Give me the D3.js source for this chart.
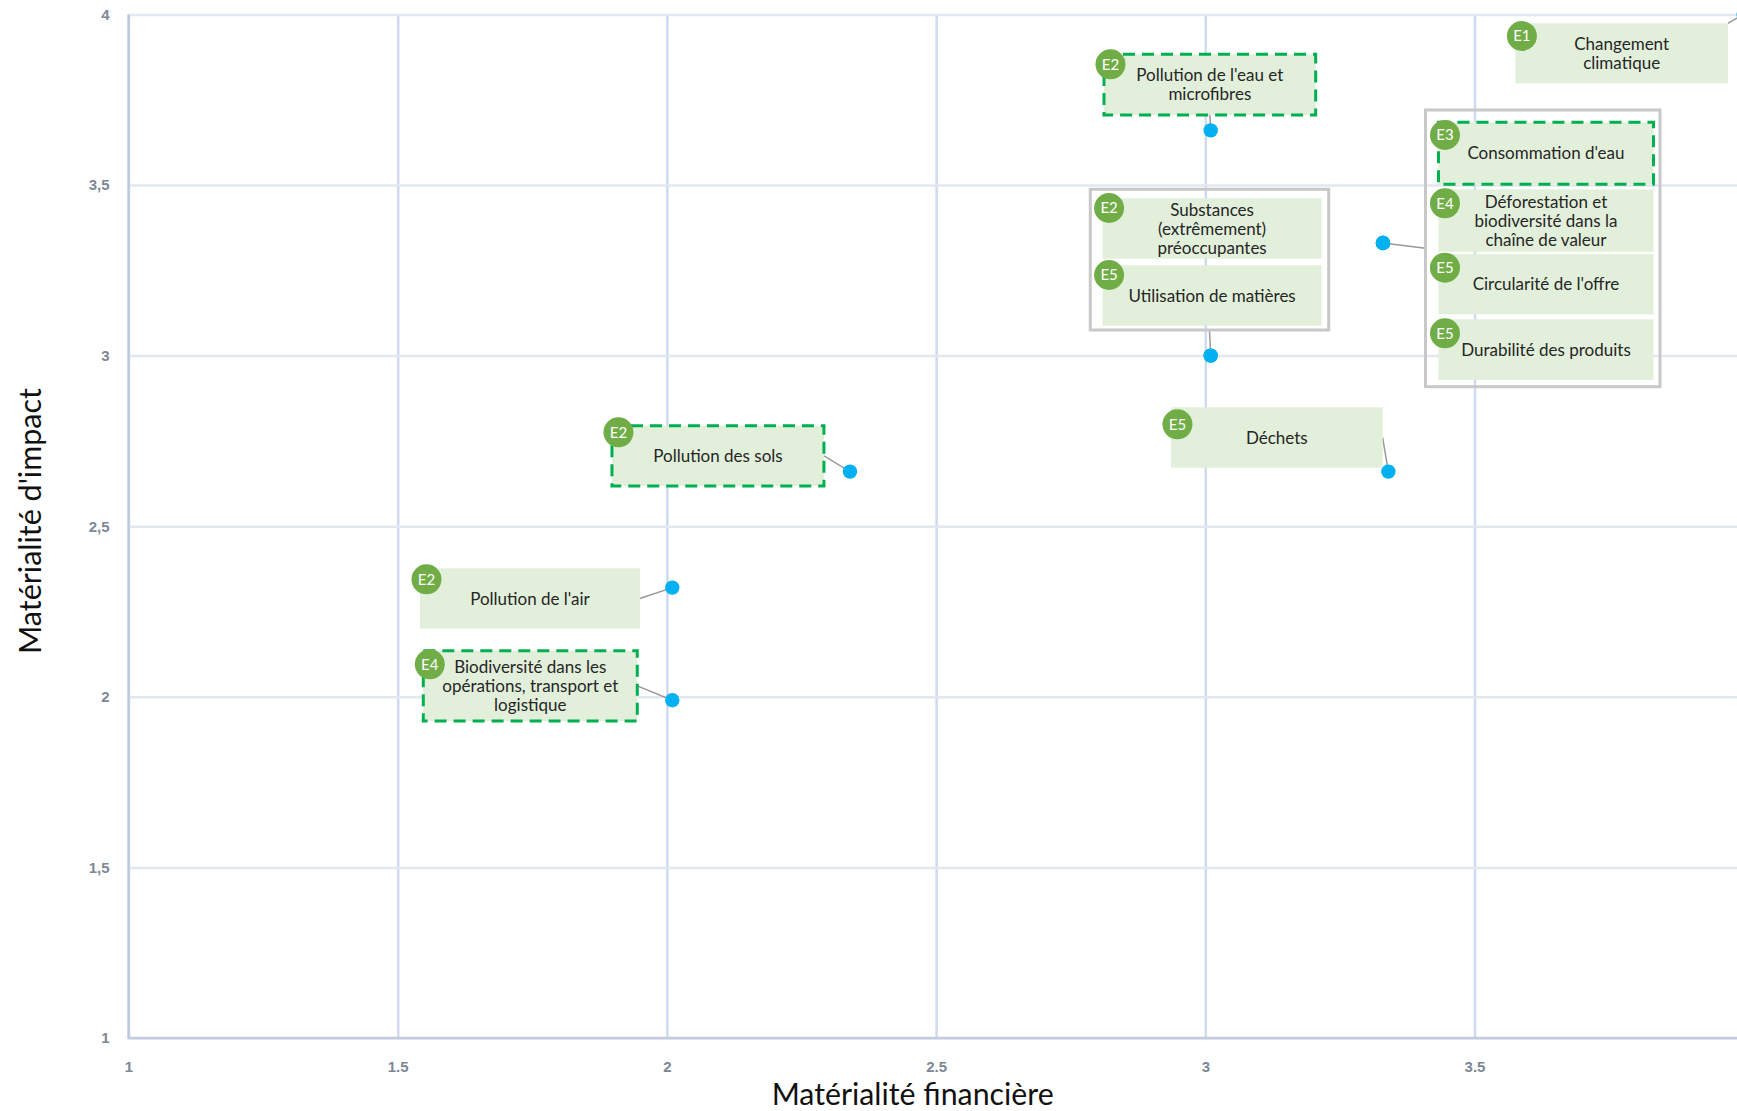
<!DOCTYPE html>
<html><head><meta charset="utf-8">
<script src="https://cdn.jsdelivr.net/npm/d3@7"></script>
<style>
html,body{margin:0;padding:0;background:#fff;overflow:hidden}
svg{display:block}
</style></head><body>
<svg id="chart" width="1737" height="1111"></svg>
<script>
// ---------- DATA ----------
const topics = [
  "Changement climatique",
  "Pollution de l'eau et microfibres",
  "Substances (extrêmement) préoccupantes",
  "Utilisation de matières",
  "Consommation d'eau",
  "Déforestation et biodiversité dans la chaîne de valeur",
  "Circularité de l'offre",
  "Durabilité des produits",
  "Déchets",
  "Pollution des sols",
  "Pollution de l'air",
  "Biodiversité dans les opérations, transport et logistique"
];
const topicLines = [
  ["Changement", "climatique"],
  ["Pollution de l'eau et", "microfibres"],
  ["Substances", "(extrêmement)", "préoccupantes"],
  ["Utilisation de matières"],
  ["Consommation d'eau"],
  ["Déforestation et", "biodiversité dans la", "chaîne de valeur"],
  ["Circularité de l'offre"],
  ["Durabilité des produits"],
  ["Déchets"],
  ["Pollution des sols"],
  ["Pollution de l'air"],
  ["Biodiversité dans les", "opérations, transport et", "logistique"]
];
const codes   = ["E1","E2","E2","E5","E3","E4","E5","E5","E5","E2","E2","E4"];
const finMat  = [4.0, 3.01, 3.01, 3.01, 3.33, 3.33, 3.33, 3.33, 3.34, 2.34, 2.01, 2.01];
const impMat  = [4.0, 3.66, 3.0, 3.0, 3.33, 3.33, 3.33, 3.33, 2.66, 2.66, 2.32, 1.99];
const highlighted = [false,true,false,false,true,false,false,false,false,true,false,true];

const xTicks = [1, 1.5, 2, 2.5, 3, 3.5, 4];
const xTickLabels = ["1", "1.5", "2", "2.5", "3", "3.5", ""];
const yTicks = [1, 1.5, 2, 2.5, 3, 3.5, 4];
const yTickLabels = ["1", "1,5", "2", "2,5", "3", "3,5", "4"];
const xTitle = "Matérialité financière";
const yTitle = "Matérialité d'impact";

// ---------- LAYOUT (annotation placement, px relative to the point) ----------
const callouts = [
  {pt:0, dx:-228.3, dy:8.9, w:212.5, h:60, anchor:"tr", frame:false,
   items:[{t:0, ox:0, oy:0, w:212.5, h:60, bdy:12.7}]},
  {pt:1, dx:-106.7, dy:-76.1, w:211.7, h:60.7, anchor:"b", frame:false,
   items:[{t:1, ox:0, oy:0, w:211.7, h:60.7, bdy:10}]},
  {pt:2, dx:-120.4, dy:-166.3, w:238.4, h:140.7, anchor:"b", frame:true,
   items:[{t:2, ox:12.3, oy:9, w:219, h:60.4, bdy:9.7},
          {t:3, ox:12.3, oy:76, w:219, h:60.4, bdy:9.7}]},
  {pt:4, dx:42.5, dy:-133, w:234.5, h:276.7, anchor:"l", frame:true,
   items:[{t:4, ox:13, oy:12.3, w:215, h:62, bdy:12.7},
          {t:5, ox:13, oy:79.3, w:215, h:62.4, bdy:14},
          {t:6, ox:13, oy:144, w:215, h:60.3, bdy:13.7},
          {t:7, ox:13, oy:209.3, w:215, h:60.7, bdy:14}]},
  {pt:8, dx:-217.4, dy:-64.3, w:211.7, h:60.4, anchor:"r", frame:false,
   items:[{t:8, ox:0, oy:0, w:211.7, h:60.4, bdy:17}]},
  {pt:9, dx:-238, dy:-45.9, w:212, h:60.3, anchor:"r", frame:false,
   items:[{t:9, ox:0, oy:0, w:212, h:60.3, bdy:6.6}]},
  {pt:10, dx:-252.3, dy:-19.3, w:220, h:60.4, anchor:"r", frame:false,
   items:[{t:10, ox:0, oy:0, w:220, h:60.4, bdy:11}]},
  {pt:11, dx:-249, dy:-49.5, w:214, h:70.3, anchor:"r", frame:false,
   items:[{t:11, ox:0, oy:0, w:214, h:70.3, bdy:13.6}]}
];

// ---------- CHART ----------
const W = 1737, H = 1111;
const svg = d3.select("#chart");
const x = d3.scaleLinear().domain([1, 4]).range([128.5, 1743.7]);
const y = d3.scaleLinear().domain([1, 4]).range([1038, 14.4]);
const plotTop = y(4), plotBottom = y(1), plotLeft = x(1);

// grid: vertical
const gx = svg.append("g").attr("transform", `translate(0,${plotBottom})`)
  .call(d3.axisBottom(x).tickValues(xTicks).tickSize(-(plotBottom - plotTop)).tickFormat(""));
gx.select(".domain").remove();
gx.selectAll(".tick line").attr("stroke", "#cfdaf0").attr("stroke-width", 2.5);

// grid: horizontal
const gy = svg.append("g").attr("transform", `translate(${plotLeft},0)`)
  .call(d3.axisLeft(y).tickValues(yTicks).tickSize(-(W - plotLeft)).tickFormat(""));
gy.select(".domain").remove();
gy.selectAll(".tick line").attr("stroke", "#e3e7ef").attr("stroke-width", 2.5);

// axis lines
svg.append("line").attr("x1", plotLeft).attr("x2", plotLeft).attr("y1", plotTop).attr("y2", plotBottom)
  .attr("stroke", "#bcc7dc").attr("stroke-width", 2.2);
svg.append("line").attr("x1", plotLeft - 1).attr("x2", W).attr("y1", plotBottom).attr("y2", plotBottom)
  .attr("stroke", "#c3cce0").attr("stroke-width", 2.6);

// tick labels
const tickFont = "'Liberation Sans', Arial, sans-serif";
const xa = svg.append("g").attr("transform", `translate(0,${plotBottom + 34})`)
  .call(d3.axisBottom(x).tickValues(xTicks).tickSize(0).tickPadding(0)
    .tickFormat((d, i) => xTickLabels[i]));
xa.select(".domain").remove();
xa.selectAll("text").attr("font-family", tickFont).attr("font-weight", "bold")
  .attr("font-size", 15).attr("fill", "#7d8796").attr("dy", "0");

const ya = svg.append("g").attr("transform", `translate(${plotLeft - 19},0)`)
  .call(d3.axisLeft(y).tickValues(yTicks).tickSize(0).tickPadding(0)
    .tickFormat((d, i) => yTickLabels[i]));
ya.select(".domain").remove();
ya.selectAll("text").attr("font-family", tickFont).attr("font-weight", "bold")
  .attr("font-size", 15).attr("fill", "#7d8796");

// axis titles
const titleFont = "Lato, 'Open Sans', sans-serif";
svg.append("text").attr("x", 912.7).attr("y", 1105).attr("text-anchor", "middle")
  .attr("font-family", titleFont).attr("font-size", 31).attr("fill", "#111")
  .attr("textLength", 282).attr("lengthAdjust", "spacingAndGlyphs").text(xTitle);
svg.append("text").attr("transform", "translate(41,521) rotate(-90)").attr("text-anchor", "middle")
  .attr("font-family", titleFont).attr("font-size", 31).attr("fill", "#111")
  .attr("textLength", 266).attr("lengthAdjust", "spacingAndGlyphs").text(yTitle);

// callout geometry
const cg = callouts.map(c => {
  const px = x(finMat[c.pt]), py = y(impMat[c.pt]);
  const bx = px + c.dx, by = py + c.dy;
  let ax, ay;
  if (c.anchor === "tr") { ax = bx + c.w; ay = by; }
  else if (c.anchor === "b") { ax = bx + c.w / 2; ay = by + c.h; }
  else if (c.anchor === "l") { ax = bx; ay = by + c.h / 2; }
  else { ax = bx + c.w; ay = by + c.h / 2; }
  return {c, px, py, bx, by, ax, ay};
});

// connectors
svg.append("g").selectAll("line").data(cg).join("line")
  .attr("x1", d => d.ax).attr("y1", d => d.ay)
  .attr("x2", d => d.px).attr("y2", d => d.py)
  .attr("stroke", "#9a9a9a").attr("stroke-width", 1.5);

// points
svg.append("g").selectAll("circle").data(topics).join("circle")
  .attr("cx", (d, i) => x(finMat[i])).attr("cy", (d, i) => y(impMat[i]))
  .attr("r", 7.2).attr("fill", "#00b0f0");

// frames
svg.append("g").selectAll("rect").data(cg.filter(d => d.c.frame)).join("rect")
  .attr("x", d => d.bx).attr("y", d => d.by).attr("width", d => d.c.w).attr("height", d => d.c.h)
  .attr("fill", "none").attr("stroke", "#c8c8c8").attr("stroke-width", 3);

// boxes
const items = [];
cg.forEach(d => d.c.items.forEach(it => items.push({
  t: it.t, x: d.bx + it.ox, y: d.by + it.oy, w: it.w, h: it.h, bdy: it.bdy
})));

const boxG = svg.append("g").selectAll("g").data(items).join("g");
boxG.append("rect")
  .attr("x", d => d.x).attr("y", d => d.y).attr("width", d => d.w).attr("height", d => d.h)
  .attr("fill", "#e2efda")
  .attr("stroke", d => highlighted[d.t] ? "#00b050" : "none")
  .attr("stroke-width", 3)
  .attr("stroke-dasharray", d => highlighted[d.t] ? "12,7" : null);

const labelFont = "Lato, 'Open Sans', sans-serif";
boxG.each(function(d) {
  const g = d3.select(this);
  const lines = topicLines[d.t];
  const cx = d.x + d.w / 2, cy = d.y + d.h / 2;
  const lh = 19;
  g.append("text").attr("text-anchor", "middle")
    .attr("font-family", labelFont).attr("font-size", 17).attr("fill", "#262626")
    .selectAll("tspan").data(lines).join("tspan")
    .attr("x", cx)
    .attr("y", (l, i) => cy + (i - (lines.length - 1) / 2) * lh + 6)
    .text(l => l);
  g.append("circle").attr("cx", d.x + 6.5).attr("cy", d.y + d.bdy).attr("r", 15)
    .attr("fill", "#70ad47");
  g.append("text").attr("x", d.x + 6.5).attr("y", d.y + d.bdy + 5.3)
    .attr("text-anchor", "middle").attr("font-family", labelFont)
    .attr("font-size", 15).attr("fill", "#ffffff").text(codes[d.t]);
});
</script>
</body></html>
